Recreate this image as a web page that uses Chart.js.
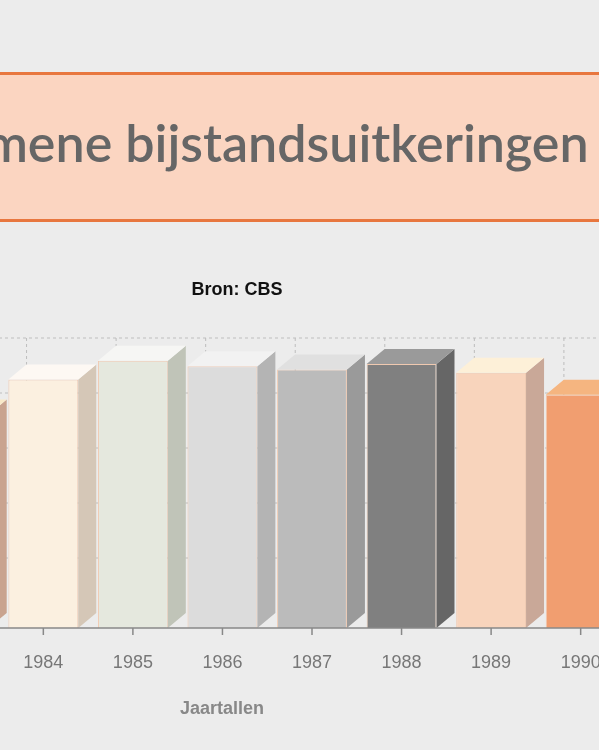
<!DOCTYPE html>
<html>
<head>
<meta charset="utf-8">
<script src="https://cdn.jsdelivr.net/npm/chart.js@4"></script>
<style>
  body { margin: 0; width: 599px; height: 750px; overflow: hidden; background: #ececec; position: relative; }
  #banner { position: absolute; left: -20px; width: 700px; top: 72px; height: 144px; background: #fbd5c1;
            border-top: 3px solid #e8773f; border-bottom: 3px solid #e8773f; overflow: hidden; }
  #banner span { position: absolute; left: -98px; top: 36px; white-space: nowrap; font: 600 52px Lato, sans-serif; color: #666; }
  #wrap { position: absolute; left: -140px; top: 0; width: 900px; height: 750px; }
</style>
</head>
<body>
<div id="banner"><span>Algemene bijstandsuitkeringen</span></div>
<div id="wrap"><canvas id="chartBijstand"></canvas></div>
<script>
const chartBijstand = document.getElementById('chartBijstand');

const years = ['1983', '1984', '1985', '1986', '1987', '1988', '1989', '1990', '1991'];
const values = [194, 226, 243, 238, 235, 240, 232, 212, 205];
const frontColors = ['#d8b29c', '#fbf0e0', '#e5e8de', '#dcdcdc', '#bbbbbb', '#808080', '#f8d4bc', '#f19e70', '#e8e8e8'];
const sideColors = ['#c9a38f', '#d5c7b7', '#c0c4b8', '#b4b4b4', '#9a9a9a', '#666666', '#c9a898', '#d8875c', '#c8c8c8'];
const topColors = ['#f9e9c9', '#fdf8f3', '#f6f6f4', '#f2f2f2', '#e0e0e0', '#9a9a9a', '#fdf0d8', '#f5b580', '#f4f4f4'];

const DX = 18, DY = 15;

const bars3d = {
  id: 'bars3d',
  beforeDatasetsDraw(chart) {
    const ctx = chart.ctx, x = chart.scales.x, y = chart.scales.y, a = chart.chartArea;
    ctx.save();
    ctx.strokeStyle = '#bdbdbd';
    ctx.lineWidth = 1;
    ctx.setLineDash([3, 3]);
    for (let v = 50; v <= 250; v += 50) {
      const py = y.getPixelForValue(v) - DY;
      ctx.beginPath(); ctx.moveTo(a.left, py); ctx.lineTo(a.right, py); ctx.stroke();
    }
    const top = y.getPixelForValue(250) - DY;
    for (let i = 0; i < years.length; i++) {
      const px = x.getPixelForValue(i) - x.width / years.length / 2 + 28;
      ctx.beginPath(); ctx.moveTo(px, top); ctx.lineTo(px, y.getPixelForValue(0) - DY); ctx.stroke();
    }
    ctx.restore();
  },
  afterDatasetsDraw(chart) {
    const ctx = chart.ctx, y = chart.scales.y, x = chart.scales.x;
    ctx.save();
    chart.getDatasetMeta(0).data.forEach((bar, i) => {
      const l = bar.x - bar.width / 2, r = bar.x + bar.width / 2, t = bar.y, b = bar.base;
      ctx.fillStyle = sideColors[i];
      ctx.beginPath();
      ctx.moveTo(r, t); ctx.lineTo(r + DX, t - DY); ctx.lineTo(r + DX, b - DY); ctx.lineTo(r, b);
      ctx.closePath(); ctx.fill();
      ctx.fillStyle = topColors[i];
      ctx.beginPath();
      ctx.moveTo(l, t); ctx.lineTo(l + DX, t - DY); ctx.lineTo(r + DX, t - DY); ctx.lineTo(r, t);
      ctx.closePath(); ctx.fill();
    });
    // axis line, ticks and labels
    const base = y.getPixelForValue(0);
    ctx.strokeStyle = '#888'; ctx.lineWidth = 1.5;
    ctx.beginPath(); ctx.moveTo(chart.chartArea.left, base); ctx.lineTo(chart.chartArea.right, base); ctx.stroke();
    ctx.fillStyle = '#777';
    ctx.font = '18px "Liberation Sans", Arial, sans-serif';
    ctx.textAlign = 'center';
    years.forEach((yr, i) => {
      const px = x.getPixelForValue(i);
      ctx.beginPath(); ctx.moveTo(px, base); ctx.lineTo(px, base + 7); ctx.stroke();
      ctx.fillText(yr, px, base + 40);
    });
    ctx.font = 'bold 18px "Liberation Sans", Arial, sans-serif';
    ctx.fillStyle = '#888';
    ctx.fillText('Jaartallen', 362, base + 86);
    ctx.fillStyle = '#111';
    ctx.fillText('Bron: CBS', 377, 295);
    ctx.restore();
  }
};

new Chart(chartBijstand, {
  type: 'bar',
  data: {
    labels: years,
    datasets: [{
      data: values,
      backgroundColor: frontColors,
      borderColor: '#f0c9b0',
      borderWidth: 1,
      barPercentage: 0.78,
      categoryPercentage: 1,
    }],
  },
  options: {
    responsive: true,
    maintainAspectRatio: false,
    animation: false,
    layout: { padding: { left: 49, right: 45, top: 298, bottom: 122 } },
    plugins: { legend: { display: false }, tooltip: { enabled: false } },
    scales: {
      x: { display: false },
      y: { display: false, min: 0, max: 300 }
    }
  },
  plugins: [bars3d],
});
</script>
</body>
</html>
